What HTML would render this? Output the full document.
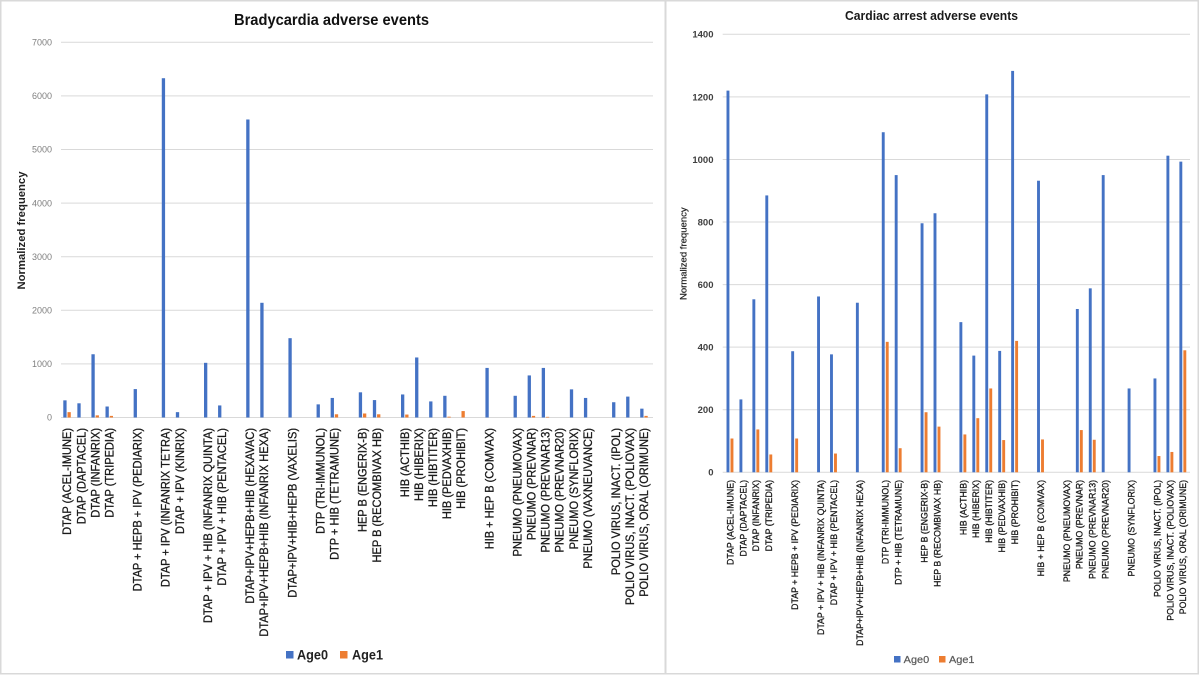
<!DOCTYPE html>
<html lang="en">
<head>
<meta charset="utf-8">
<title>Bradycardia and cardiac arrest adverse events</title>
<style>
  html, body { margin: 0; padding: 0; background: #ffffff; }
  body { width: 1200px; height: 675px; overflow: hidden; }
  svg { display: block; font-family: "Liberation Sans", sans-serif; filter: blur(0.25px); }
</style>
</head>
<body>
<svg id="chart-root" xmlns="http://www.w3.org/2000/svg" width="1200" height="675" viewBox="0 0 1200 675">
  <rect x="0" y="0" width="1200" height="675" fill="#ffffff"/>
  <rect x="0.75" y="0.75" width="664.5" height="673" fill="none" stroke="#d9d9d9" stroke-width="1.5"/>
  <rect x="665.75" y="0.75" width="532.5" height="673" fill="none" stroke="#d9d9d9" stroke-width="1.5"/>

  <g id="left-chart"></g>
  <g id="right-chart"></g>

  <text x="331.5" y="25" text-anchor="middle" font-size="16" font-weight="700" fill="#111111" textLength="195" lengthAdjust="spacingAndGlyphs">Bradycardia adverse events</text>
  <text transform="translate(25,230.5) rotate(-90)" text-anchor="middle" font-size="11" font-weight="700" fill="#222222" textLength="118" lengthAdjust="spacingAndGlyphs">Normalized frequency</text>
  <rect x="286" y="651" width="7.5" height="7.5" fill="#4472c4"/>
  <text x="297" y="659.5" font-size="13.5" font-weight="700" fill="#222222" textLength="31" lengthAdjust="spacingAndGlyphs">Age0</text>
  <rect x="340" y="651" width="7.5" height="7.5" fill="#ed7d31"/>
  <text x="352" y="659.5" font-size="13.5" font-weight="700" fill="#222222" textLength="31" lengthAdjust="spacingAndGlyphs">Age1</text>

  <text x="931.5" y="20" text-anchor="middle" font-size="12.5" font-weight="700" fill="#1a1a1a" textLength="173" lengthAdjust="spacingAndGlyphs">Cardiac arrest adverse events</text>
  <text transform="translate(686.5,253.7) rotate(-90)" text-anchor="middle" font-size="9.5" fill="#222222" stroke="#222222" stroke-width="0.2" textLength="92.7" lengthAdjust="spacingAndGlyphs">Normalized frequency</text>
  <rect x="894" y="656" width="6.5" height="6.5" fill="#4472c4"/>
  <text x="903.7" y="663" font-size="10.5" fill="#595959" stroke="#595959" stroke-width="0.2" textLength="25.5" lengthAdjust="spacingAndGlyphs">Age0</text>
  <rect x="939" y="656" width="6.5" height="6.5" fill="#ed7d31"/>
  <text x="949" y="663" font-size="10.5" fill="#595959" stroke="#595959" stroke-width="0.2" textLength="25.5" lengthAdjust="spacingAndGlyphs">Age1</text>
</svg>

<script>
// ---- Bradycardia data ----
const leftCategories = [
  'DTAP (ACEL-IMUNE)','DTAP (DAPTACEL)','DTAP (INFANRIX)','DTAP (TRIPEDIA)','',
  'DTAP + HEPB + IPV (PEDIARIX)','',
  'DTAP + IPV (INFANRIX TETRA)','DTAP + IPV (KINRIX)','',
  'DTAP + IPV + HIB (INFANRIX QUINTA)','DTAP + IPV + HIB (PENTACEL)','',
  'DTAP+IPV+HEPB+HIB (HEXAVAC)','DTAP+IPV+HEPB+HIB (INFANRIX HEXA)','',
  'DTAP+IPV+HIB+HEPB (VAXELIS)','',
  'DTP (TRI-IMMUNOL)','DTP + HIB (TETRAMUNE)','',
  'HEP B (ENGERIX-B)','HEP B (RECOMBIVAX HB)','',
  'HIB (ACTHIB)','HIB (HIBERIX)','HIB (HIBTITER)','HIB (PEDVAXHIB)','HIB (PROHIBIT)','',
  'HIB + HEP B (COMVAX)','',
  'PNEUMO (PNEUMOVAX)','PNEUMO (PREVNAR)','PNEUMO (PREVNAR13)','PNEUMO (PREVNAR20)','PNEUMO (SYNFLORIX)','PNEUMO (VAXNEUVANCE)','',
  'POLIO VIRUS, INACT. (IPOL)','POLIO VIRUS, INACT. (POLIOVAX)','POLIO VIRUS, ORAL (ORIMUNE)'
];
const leftAge0 = [320,265,1180,205,0,530,0,6330,100,0,1020,225,0,5560,2140,0,1480,0,245,365,0,470,325,0,430,1120,300,405,0,0,925,0,405,785,925,0,525,365,0,285,390,165];
const leftAge1 = [100,0,40,30,0,0,0,0,0,0,0,0,0,0,0,0,0,0,0,60,0,75,60,0,55,0,0,15,120,0,0,0,0,30,12,0,0,0,0,0,0,30];
const leftTicks = [0,1000,2000,3000,4000,5000,6000,7000];

// ---- Cardiac arrest data ----
const rightCategories = [
  'DTAP (ACEL-IMUNE)','DTAP (DAPTACEL)','DTAP (INFANRIX)','DTAP (TRIPEDIA)','',
  'DTAP + HEPB + IPV (PEDIARIX)','',
  'DTAP + IPV + HIB (INFANRIX QUINTA)','DTAP + IPV + HIB (PENTACEL)','',
  'DTAP+IPV+HEPB+HIB (INFANRIX HEXA)','',
  'DTP (TRI-IMMUNOL)','DTP + HIB (TETRAMUNE)','',
  'HEP B (ENGERIX-B)','HEP B (RECOMBIVAX HB)','',
  'HIB (ACTHIB)','HIB (HIBERIX)','HIB (HIBTITER)','HIB (PEDVAXHIB)','HIB (PROHIBIT)','',
  'HIB + HEP B (COMVAX)','',
  'PNEUMO (PNEUMOVAX)','PNEUMO (PREVNAR)','PNEUMO (PREVNAR13)','PNEUMO (PREVNAR20)','',
  'PNEUMO (SYNFLORIX)','',
  'POLIO VIRUS, INACT. (IPOL)','POLIO VIRUS, INACT. (POLIOVAX)','POLIO VIRUS, ORAL (ORIMUNE)'
];
const rightAge0 = [1220,233,553,885,0,387,0,562,377,0,542,0,1087,950,0,796,828,0,480,373,1208,388,1283,0,932,0,0,522,588,950,0,268,0,300,1012,993];
const rightAge1 = [108,0,137,57,0,108,0,0,60,0,0,0,417,77,0,192,146,0,121,173,268,103,420,0,105,0,0,135,104,0,0,0,0,52,65,390];
const rightTicks = [0,200,400,600,800,1000,1200,1400];

const SVG_NS = 'http://www.w3.org/2000/svg';

function drawChart(rootId, cfg, categories, age0, age1, ticks) {
  const root = document.getElementById(rootId);
  const maxTick = ticks[ticks.length - 1];
  const yScale = v => cfg.bottom - (v / maxTick) * (cfg.bottom - cfg.top);
  const slot = (cfg.right - cfg.left) / categories.length;
  const xCenter = i => cfg.left + slot * (i + 0.5);

  ticks.forEach(t => {
    const y = yScale(t);
    const line = document.createElementNS(SVG_NS, 'line');
    
    
    line.setAttribute('x1', cfg.gridLeft);
    line.setAttribute('x2', cfg.gridRight);
    line.setAttribute('y1', y);
    line.setAttribute('y2', y);
    line.setAttribute('stroke', '#d9d9d9');
    line.setAttribute('stroke-width', '1');
    root.appendChild(line);

    const label = document.createElementNS(SVG_NS, 'text');
    
    
    label.setAttribute('x', cfg.tickX);
    label.setAttribute('y', y + cfg.tickSize * 0.36);
    label.setAttribute('text-anchor', 'end');
    label.setAttribute('font-size', cfg.tickSize);
    label.setAttribute('font-weight', cfg.tickWeight);
    label.setAttribute('fill', cfg.tickColor);
    label.textContent = String(t);
    root.appendChild(label);
  });

  categories.forEach((name, i) => {
    const cx = xCenter(i);
    if (age0[i] > 0) {
      const bar = document.createElementNS(SVG_NS, 'rect');
      
      
      bar.setAttribute('x', cx - cfg.offset - cfg.barWidth / 2);
      bar.setAttribute('y', yScale(age0[i]));
      bar.setAttribute('width', cfg.barWidth);
      bar.setAttribute('height', cfg.bottom - yScale(age0[i]));
      bar.setAttribute('fill', '#4472c4');
      root.appendChild(bar);
    }
    if (age1[i] > 0) {
      const bar = document.createElementNS(SVG_NS, 'rect');
      
      
      bar.setAttribute('x', cx + cfg.offset - cfg.barWidth / 2);
      bar.setAttribute('y', yScale(age1[i]));
      bar.setAttribute('width', cfg.barWidth);
      bar.setAttribute('height', cfg.bottom - yScale(age1[i]));
      bar.setAttribute('fill', '#ed7d31');
      root.appendChild(bar);
    }
    if (name) {
      const text = document.createElementNS(SVG_NS, 'text');
      
      
      const tx = cx + cfg.labelShift;
      text.setAttribute('transform', 'translate(' + tx + ',' + cfg.labelTop + ') rotate(-90) scale(' + cfg.labelScale + ',1)');
      text.setAttribute('text-anchor', 'end');
      text.setAttribute('font-size', cfg.labelSize);
      text.setAttribute('fill', '#1a1a1a');
      text.setAttribute('stroke', '#1a1a1a');
      text.setAttribute('stroke-width', '0.3');
      text.textContent = name;
      root.appendChild(text);
    }
  });
}

drawChart('left-chart', {
  left: 60, right: 651, top: 42.3, bottom: 417.5,
  gridLeft: 61, gridRight: 653,
  tickX: 52, tickSize: 9, tickWeight: 400, tickColor: '#7f7f7f',
  barWidth: 3.3, offset: 2.1,
  labelTop: 428, labelSize: 11.5, labelScale: 0.96, labelShift: 4.2
}, leftCategories, leftAge0, leftAge1, leftTicks);

drawChart('right-chart', {
  left: 723.5, right: 1189.3, top: 34.3, bottom: 472.3,
  gridLeft: 722.7, gridRight: 1190,
  tickX: 713.5, tickSize: 9.5, tickWeight: 700, tickColor: '#404040',
  barWidth: 2.9, offset: 2,
  labelTop: 480, labelSize: 9.6, labelScale: 0.915, labelShift: 3.4
}, rightCategories, rightAge0, rightAge1, rightTicks);
</script>
</body>
</html>
